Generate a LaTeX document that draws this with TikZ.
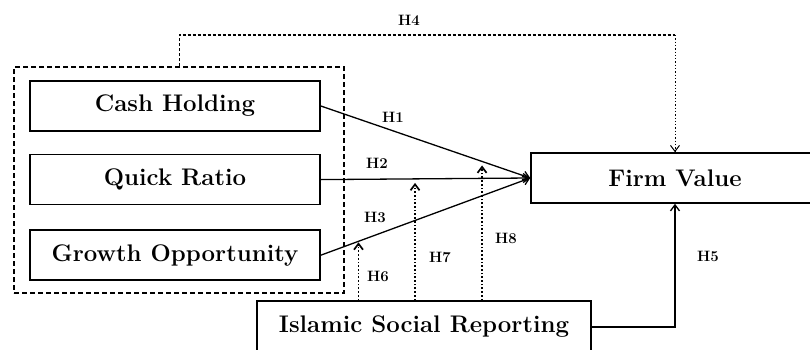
\documentclass[tikz,border=0pt]{standalone}
\usepackage{fontspec}
\usepackage{xcolor}
\usepackage{tikz}
\usetikzlibrary{positioning,arrows.meta}

\begin{document}
\begin{tikzpicture}[x=1pt, y=1pt,
  box/.style={draw, line width=1.6pt, minimum width=290pt, minimum height=50pt,
              align=center, font=\fontsize{24}{28}\selectfont\bfseries},
  grp/.style={draw, dashed, dash pattern=on 5pt off 3pt, line width=1.3pt},
  arr/.style={-{Straight Barb[length=6pt,width=9pt]}, line width=1.3pt},
  dotarr/.style={arr, dotted, dash pattern=on 1.7pt off 2pt, line width=1.7pt},
  hlab/.style={font=\fontsize{15}{18}\selectfont\bfseries}]
\useasboundingbox (0,0) rectangle (810,349);
\node[box] (ch) at (175,243) {Cash Holding};
\node[box, below=22pt of ch] (qr) {Quick Ratio};
\node[box, below=24pt of qr] (go) {Growth Opportunity};
\node[grp, minimum width=330pt, minimum height=226pt] (grp) at (179,169) {};
\node[box, minimum width=288pt] (fv) at (675,171) {Firm Value};
\node[box, minimum width=334pt, minimum height=52pt] (isr) at (424,22) {Islamic Social Reporting};
\draw[arr] (ch.east) -- coordinate[pos=0.77] (m8) (fv.west);
\draw[arr] (qr.east) -- coordinate[pos=0.45] (m7) (fv.west);
\draw[arr] (go.east) -- coordinate[pos=0.18] (m6) (fv.west);
\coordinate (h4r) at (fv.north |- 0,314);
\draw[dashed, dash pattern=on 3pt off 2pt, line width=1pt] (grp.north) |- (h4r);
\draw[arr, dotted, line width=1pt] (h4r) -- (fv.north);
\draw[arr] (isr.east) -| (fv.south);
\draw[dotarr, shorten >=1pt] (isr.north -| m6) -- (m6);
\draw[dotarr, shorten >=4pt] (isr.north -| m7) -- (m7);
\draw[dotarr, shorten >=4pt] (isr.north -| m8) -- (m8);
\node[hlab] (l4) at (409,329) {H4};
\node[hlab] (l1) at (393,232) {H1};
\node[hlab] (l2) at (377,186) {H2};
\node[hlab] (l3) at (375,132) {H3};
\node[hlab] (l6) at (378,73) {H6};
\node[hlab] (l7) at (440,92) {H7};
\node[hlab] (l8) at (506,111) {H8};
\node[hlab] (l5) at (708,93) {H5};
\end{tikzpicture}
\end{document}
